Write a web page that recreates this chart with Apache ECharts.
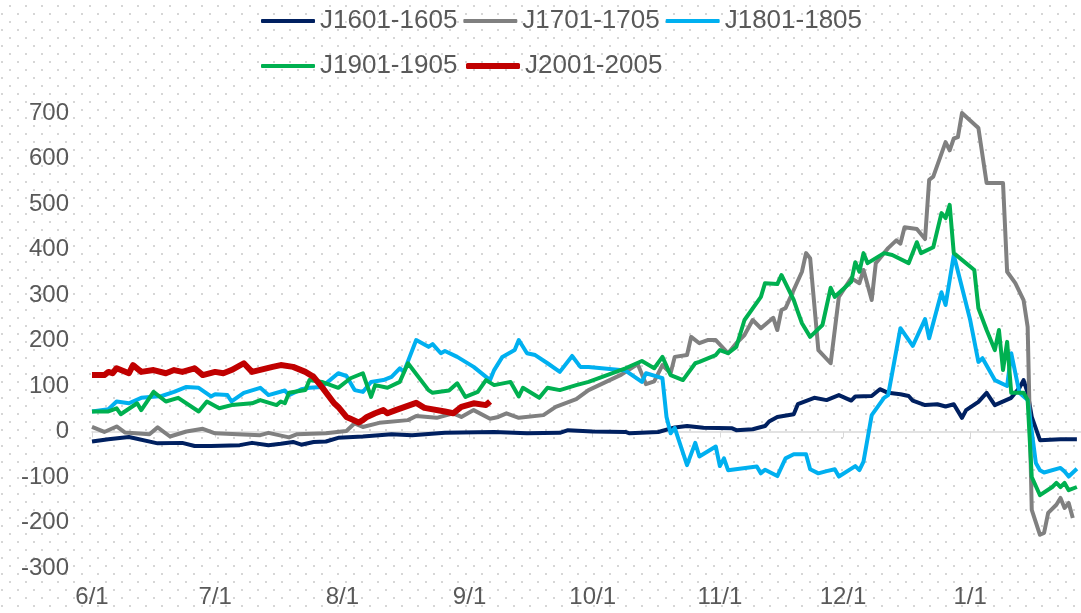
<!DOCTYPE html>
<html>
<head>
<meta charset="utf-8">
<script src="https://cdn.jsdelivr.net/npm/echarts@6/dist/echarts.min.js"></script>
<style>
  html, body { margin: 0; padding: 0; }
  #chart {
    width: 1081px;
    height: 613px;
    background-color: #fff;
    background-image: url("data:image/svg+xml,%3Csvg xmlns='http://www.w3.org/2000/svg' width='16' height='16'%3E%3Crect x='1' y='13' width='2' height='2' fill='%23d6d6d6'/%3E%3Crect x='9' y='5' width='2' height='2' fill='%23d6d6d6'/%3E%3C/svg%3E");
  }
</style>
</head>
<body>
<div id="chart"></div>
<script>
// spreads, by day (M/D), from 6/1 to late January
const j1601 = [
  ["6/1", -22], ["6/5", -17], ["6/10", -12], ["6/17", -26], ["6/23", -25], ["6/26", -32],
  ["6/30", -32], ["7/7", -30], ["7/10", -25], ["7/14", -30], ["7/17", -27], ["7/20", -23],
  ["7/22", -29], ["7/25", -23], ["7/28", -22], ["7/31", -14], ["8/6", -11], ["8/13", -6],
  ["8/18", -8], ["8/26", -3], ["9/7", -1], ["9/15", -4], ["9/23", -3], ["9/25", 3],
  ["10/1", 0], ["10/9", -1], ["10/10", -4], ["10/17", -1], ["10/21", 9], ["10/24", 12],
  ["10/28", 8], ["11/4", 7], ["11/5", 3], ["11/9", 5], ["11/12", 12], ["11/13", 22],
  ["11/15", 32], ["11/19", 38], ["11/20", 60], ["11/24", 74], ["11/27", 69], ["11/30", 80],
  ["12/3", 68], ["12/4", 77], ["12/8", 78], ["12/10", 93], ["12/12", 85], ["12/15", 82],
  ["12/17", 78], ["12/18", 68], ["12/21", 58], ["12/24", 60], ["12/26", 55], ["12/28", 60],
  ["12/30", 30], ["12/31", 47], ["1/3", 65], ["1/5", 85], ["1/7", 58], ["1/11", 74],
  ["1/13", 96], ["1/14", 113], ["1/15", 85], ["1/16", 32], ["1/18", -19], ["1/23", -17],
  ["1/27", -17]
];

const j1701 = [
  ["6/1", 10], ["6/4", -1], ["6/7", 11], ["6/9", -2], ["6/15", -6], ["6/17", 9],
  ["6/20", -11], ["6/24", 0], ["6/28", 6], ["7/1", -4], ["7/12", -8], ["7/14", -3],
  ["7/19", -13], ["7/21", -6], ["7/28", -4], ["8/2", 1], ["8/4", 18], ["8/6", 10],
  ["8/10", 19], ["8/17", 25], ["8/19", 34], ["8/24", 30], ["8/28", 40], ["8/30", 32],
  ["9/2", 47], ["9/6", 28], ["9/8", 32], ["9/10", 40], ["9/13", 30], ["9/19", 36],
  ["9/22", 54], ["9/27", 71], ["9/30", 91], ["10/8", 125], ["10/12", 148], ["10/14", 104],
  ["10/16", 110], ["10/18", 146], ["10/20", 128], ["10/21", 164], ["10/24", 168], ["10/25", 208],
  ["10/27", 194], ["10/29", 201], ["10/31", 201], ["11/3", 172], ["11/5", 194], ["11/7", 212],
  ["11/9", 245], ["11/11", 227], ["11/14", 250], ["11/15", 223], ["11/16", 267], ["11/17", 271],
  ["11/21", 351], ["11/22", 392], ["11/23", 381], ["11/25", 179], ["11/28", 150], ["11/30", 296],
  ["12/3", 337], ["12/5", 326], ["12/6", 355], ["12/8", 289], ["12/9", 370], ["12/12", 403],
  ["12/14", 420], ["12/15", 413], ["12/16", 449], ["12/19", 445], ["12/21", 423], ["12/22", 553],
  ["12/23", 560], ["12/26", 636], ["12/27", 618], ["12/28", 644], ["12/29", 647], ["12/30", 700],
  ["1/3", 667], ["1/5", 546], ["1/9", 546], ["1/10", 351], ["1/12", 326], ["1/14", 289],
  ["1/15", 230], ["1/16", -172], ["1/18", -227], ["1/19", -223], ["1/20", -179], ["1/22", -161],
  ["1/23", -146], ["1/24", -168], ["1/25", -157], ["1/26", -190]
];

const j1801 = [
  ["6/1", 44], ["6/5", 49], ["6/7", 66], ["6/10", 62], ["6/13", 74], ["6/18", 78],
  ["6/21", 87], ["6/24", 98], ["6/27", 96], ["6/30", 77], ["7/1", 82], ["7/4", 80],
  ["7/5", 66], ["7/8", 85], ["7/12", 96], ["7/14", 80], ["7/18", 90], ["7/19", 80],
  ["7/22", 93], ["7/24", 96], ["7/27", 98], ["7/31", 128], ["8/2", 122], ["8/4", 91],
  ["8/6", 87], ["8/8", 109], ["8/11", 113], ["8/13", 120], ["8/15", 139], ["8/16", 131],
  ["8/19", 201], ["8/22", 186], ["8/23", 192], ["8/25", 172], ["8/26", 177], ["8/29", 164],
  ["9/2", 142], ["9/6", 113], ["9/7", 135], ["9/9", 164], ["9/12", 179], ["9/13", 201],
  ["9/15", 172], ["9/17", 168], ["9/20", 150], ["9/23", 131], ["9/26", 166], ["9/28", 142],
  ["9/30", 142], ["10/9", 134], ["10/13", 109], ["10/14", 128], ["10/17", 120], ["10/18", 117],
  ["10/19", 32], ["10/20", -4], ["10/21", 8], ["10/24", -74], ["10/26", -25], ["10/27", -55],
  ["10/31", -33], ["11/1", -76], ["11/2", -59], ["11/3", -85], ["11/10", -77], ["11/11", -92],
  ["11/12", -84], ["11/15", -98], ["11/17", -59], ["11/19", -50], ["11/22", -50], ["11/23", -83],
  ["11/25", -92], ["11/27", -87], ["11/29", -83], ["11/30", -99], ["12/4", -76], ["12/5", -85],
  ["12/6", -66], ["12/8", 36], ["12/11", 74], ["12/12", 80], ["12/15", 227], ["12/18", 188],
  ["12/21", 247], ["12/22", 205], ["12/25", 306], ["12/26", 278], ["12/28", 388], ["1/1", 245],
  ["1/3", 153], ["1/4", 161], ["1/7", 113], ["1/10", 100], ["1/11", 172], ["1/13", 85],
  ["1/15", 69], ["1/17", -69], ["1/18", -85], ["1/19", -90], ["1/23", -80], ["1/24", -88],
  ["1/25", -99], ["1/27", -82]
];

const j1901 = [
  ["6/1", 44], ["6/5", 44], ["6/7", 51], ["6/8", 38], ["6/12", 62], ["6/13", 47],
  ["6/16", 87], ["6/19", 66], ["6/22", 74], ["6/27", 44], ["6/29", 66], ["7/2", 51],
  ["7/5", 58], ["7/10", 62], ["7/12", 69], ["7/16", 58], ["7/17", 66], ["7/18", 62],
  ["7/19", 85], ["7/23", 91], ["7/24", 113], ["7/27", 109], ["7/31", 96], ["8/3", 117],
  ["8/6", 128], ["8/8", 76], ["8/9", 102], ["8/12", 96], ["8/15", 109], ["8/17", 150],
  ["8/22", 91], ["8/23", 85], ["8/27", 90], ["8/29", 106], ["8/31", 76], ["9/3", 87],
  ["9/5", 113], ["9/7", 102], ["9/11", 109], ["9/13", 77], ["9/14", 96], ["9/18", 74],
  ["9/20", 96], ["9/23", 91], ["9/27", 102], ["9/30", 109], ["10/9", 139], ["10/13", 155],
  ["10/16", 139], ["10/18", 164], ["10/20", 124], ["10/23", 113], ["10/26", 150], ["10/27", 153],
  ["10/31", 168], ["11/1", 179], ["11/3", 172], ["11/5", 186], ["11/7", 245], ["11/11", 296],
  ["11/12", 326], ["11/15", 324], ["11/16", 344], ["11/19", 289], ["11/20", 263], ["11/21", 238],
  ["11/23", 208], ["11/26", 234], ["11/28", 316], ["11/29", 296], ["12/3", 329], ["12/4", 372],
  ["12/5", 351], ["12/6", 392], ["12/7", 370], ["12/11", 392], ["12/13", 388], ["12/17", 370],
  ["12/19", 416], ["12/20", 392], ["12/23", 405], ["12/25", 480], ["12/26", 469], ["12/27", 498],
  ["12/28", 392], ["1/2", 355], ["1/3", 271], ["1/5", 223], ["1/7", 179], ["1/8", 223],
  ["1/9", 135], ["1/10", 197], ["1/11", 85], ["1/14", 85], ["1/15", 69], ["1/16", -100],
  ["1/18", -140], ["1/21", -122], ["1/22", -113], ["1/23", -122], ["1/24", -113], ["1/25", -129],
  ["1/27", -122]
];

const j2001 = [
  ["6/1", 124], ["6/4", 124], ["6/5", 131], ["6/6", 128], ["6/7", 139], ["6/10", 128],
  ["6/11", 146], ["6/13", 131], ["6/16", 135], ["6/19", 128], ["6/21", 135], ["6/23", 131],
  ["6/26", 139], ["6/28", 124], ["7/1", 131], ["7/3", 128], ["7/5", 135], ["7/8", 150],
  ["7/10", 131], ["7/15", 142], ["7/17", 146], ["7/20", 142], ["7/23", 131], ["7/25", 120],
  ["7/27", 98], ["7/30", 62], ["7/31", 54], ["8/2", 32], ["8/3", 28], ["8/5", 20],
  ["8/6", 25], ["8/7", 32], ["8/9", 40], ["8/11", 47], ["8/12", 40], ["8/14", 47],
  ["8/19", 63], ["8/21", 52], ["8/26", 44], ["8/28", 40], ["8/30", 54], ["9/2", 62],
  ["9/5", 58], ["9/6", 66]
];

const yTicks = { min: -300, max: 700, step: 100 };

// calendar days for the category axis
const days = [];
for (let t = Date.UTC(2019, 5, 1); t <= Date.UTC(2020, 0, 28); t += 86400000) {
  const d = new Date(t);
  days.push((d.getUTCMonth() + 1) + "/" + d.getUTCDate());
}
const isMonthStart = (i, v) => /\/1$/.test(v);

const chart = echarts.init(document.getElementById("chart"));
const font = "Liberation Sans, Arial, sans-serif";

// plain line icons, like the spreadsheet legend
function legendRow(left, top, names, thick) {
  return {
    left: left,
    top: top,
    icon: "roundRect",
    itemWidth: 54,
    itemHeight: thick,
    itemGap: 6,
    data: names,
    textStyle: { color: "#595959", fontSize: 26, fontFamily: font, lineHeight: 30 },
  };
}

const option = {
  animation: false,
  legend: [
    legendRow(256, 1, ["J1601-1605", "J1701-1705", "J1801-1805"], 4),
    legendRow(256, 46, ["J1901-1905"], 4),
    legendRow(461, 46, ["J2001-2005"], 6),
  ],
  grid: { left: 92, right: 0, top: 113, bottom: 45, containLabel: false },
  xAxis: [
    {
      type: "category",
      data: days,
      boundaryGap: false,
      axisLine: { onZero: true, lineStyle: { color: "#d9d9d9", width: 1.5 } },
      axisTick: { show: true, interval: isMonthStart, length: 6, lineStyle: { color: "#d9d9d9" } },
      axisLabel: { show: false },
    },
    {
      type: "category",
      data: days,
      boundaryGap: false,
      position: "bottom",
      axisLine: { show: false, onZero: false },
      axisTick: { show: false },
      axisLabel: {
        interval: isMonthStart,
        color: "#595959",
        fontSize: 24,
        fontFamily: font,
        margin: 17,
      },
    },
  ],
  yAxis: {
    type: "value",
    min: yTicks.min,
    max: yTicks.max,
    interval: yTicks.step,
    axisLine: { show: false },
    axisTick: { show: false },
    splitLine: { show: false },
    axisLabel: { color: "#595959", fontSize: 24, fontFamily: font, margin: 23 },
  },
  series: [
    { name: "J1601-1605", data: j1601, color: "#002060", width: 4 },
    { name: "J1701-1705", data: j1701, color: "#808080", width: 4 },
    { name: "J1801-1805", data: j1801, color: "#00b0f0", width: 4 },
    { name: "J1901-1905", data: j1901, color: "#00b050", width: 4 },
    { name: "J2001-2005", data: j2001, color: "#c00000", width: 6 },
  ].map((s) => ({
    name: s.name,
    type: "line",
    xAxisIndex: 0,
    data: s.data,
    symbol: "none",
    color: s.color,
    lineStyle: { color: s.color, width: s.width, join: "round" },
  })),
};

chart.setOption(option);
</script>
</body>
</html>
